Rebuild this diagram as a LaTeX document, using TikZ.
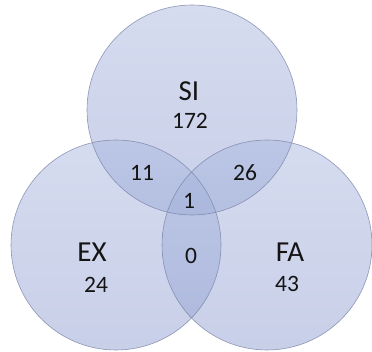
\documentclass[tikz,border=0pt]{standalone}
\usepackage{fontspec}
\setmainfont{Carlito}
\definecolor{venntop}{RGB}{172,185,224}
\definecolor{vennbottom}{RGB}{145,160,210}
\definecolor{vennline}{RGB}{120,130,165}
\definecolor{vonnext}{RGB}{20,20,20}
\tikzset{
	setdisc/.style={top color=venntop,bottom color=vennbottom,fill opacity=0.5},
	setrim/.style={draw=vennline,line width=0.6pt,opacity=0.8},
	setname/.style={draw=none,text=vonnext,font=\fontsize{29}{29}\selectfont},
	setcount/.style={draw=none,text=vonnext,font=\fontsize{23.5}{23.5}\selectfont}
}
\begin{document}
\begin{tikzpicture}[x=1pt,y=-1pt]
		\useasboundingbox (0,0) rectangle (372,352);
		% the three sets
		\shade[setdisc] (192,110) circle[radius=105];
		\shade[setdisc] (116,245) circle[radius=105];
		\shade[setdisc] (267,245) circle[radius=105];
		\draw[setrim] (192,110) circle[radius=105];
		\draw[setrim] (116,245) circle[radius=105];
		\draw[setrim] (267,245) circle[radius=105];
		% names and counts
		\node[setname] (si) at (189,91) {SI};
		\node[setcount] (si-n) at (190,121) {172};
		\node[setname] (ex) at (92,252) {EX};
		\node[setcount] (ex-n) at (96,285) {24};
		\node[setname] (fa) at (290,252) {FA};
		\node[setcount] (fa-n) at (287,284) {43};
		\node[setcount] (si-ex) at (142,173) {11};
		\node[setcount] (si-fa) at (245,173) {26};
		\node[setcount] (all) at (189,201) {1};
		\node[setcount] (ex-fa) at (191,256) {0};
	\end{tikzpicture}
\end{document}
